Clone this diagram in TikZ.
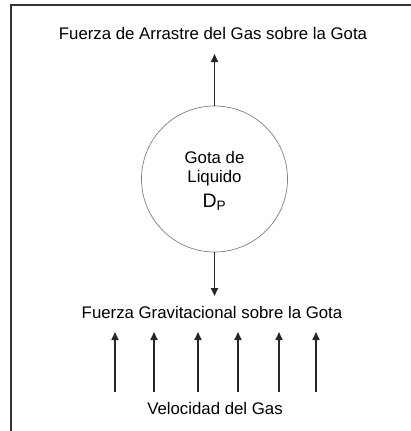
\documentclass[tikz,border=0pt]{standalone}
\usepackage{fontspec}
\setmainfont{Liberation Sans}
\usepackage{tikz}
\usetikzlibrary{arrows.meta, positioning}
\tikzset{every node/.style={font=\fontsize{16.8}{19}\selectfont}}

\begin{document}
\begin{tikzpicture}[x=1pt, y=-1pt,
    forcearrow/.style={draw=black!85, line width=1.6pt, -{Triangle[length=8pt, width=7pt]}},
    dropcircle/.style={circle, draw=black!50, line width=0.7pt, minimum size=146pt, inner sep=0pt, align=center}]
    \useasboundingbox (0,0) rectangle (410,431);
    \draw[black!80, line width=1.8pt] (11,433) -- (11,5) -- (412,5);
    \node[dropcircle] (gota) at (214.5,179) {};
    \node at (214.5,157) (gtxt1) {Gota de};
    \node at (214.5,178) (gtxt2) {Liquido};
    \node[font=\fontsize{19.5}{22}\selectfont] at (214.5,202) (gdp) {D\textsubscript{P}};
    \node (arrastre) at (213,33) {Fuerza de Arrastre del Gas sobre la Gota};
    \node (gravedad) at (212,312) {Fuerza Gravitacional sobre la Gota};
    \node (velocidad) at (215,408) {Velocidad del Gas};
    % arrastre y gravedad
    \coordinate (tipup) at (214.5,54);
    \coordinate (tipdown) at (214.5,296);
    \draw[forcearrow] (gota.north) -- (tipup);
    \draw[forcearrow] (gota.south) -- (tipdown);
    % flujo de gas
    \foreach \i/\x in {1/115, 2/154, 3/198, 4/238, 5/279, 6/316} {
      \coordinate (gb\i) at (\x,392);
      \coordinate (gt\i) at (\x,332);
      \draw[forcearrow] (gb\i) -- (gt\i);
    }
\end{tikzpicture}
\end{document}
